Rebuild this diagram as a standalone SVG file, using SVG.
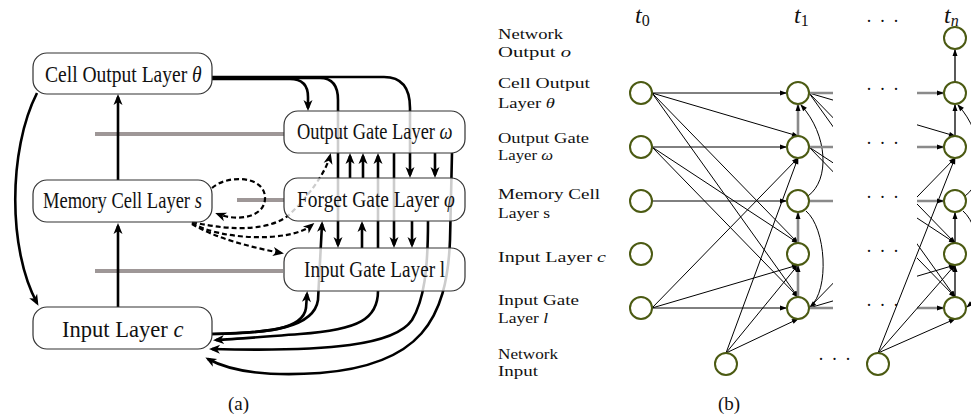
<svg xmlns="http://www.w3.org/2000/svg" xmlns:xlink="http://www.w3.org/1999/xlink" width="971" height="417" viewBox="0 0 971 417">
  <style>
    .box { fill: #ffffff; fill-opacity: 0.8; stroke: #333333; stroke-width: 1.2; }
    .ta { font-family: "Liberation Serif", "DejaVu Serif", serif; font-size: 24px; fill: #111111; }
    .tb { font-family: "Liberation Serif", "DejaVu Serif", serif; font-size: 14px; fill: #111111; }
    .cap { font-family: "Liberation Serif", "DejaVu Serif", serif; font-size: 19px; fill: #111111; }
    .tl { font-family: "Liberation Serif", "DejaVu Serif", serif; font-size: 24px; font-style: italic; fill: #111111; }
    .dots { font-family: "Liberation Serif", "DejaVu Serif", serif; font-size: 18px; letter-spacing: 7.5px; fill: #111111; }
    .ka { fill: none; stroke: #000000; stroke-width: 2.6; marker-end: url(#ah); }
    .da { fill: none; stroke: #000000; stroke-width: 2.2; stroke-dasharray: 5 3; marker-end: url(#ah); }
    .bar { fill: none; stroke: #9e9797; stroke-width: 4; }
    .ln { fill: none; stroke: #000000; stroke-width: 1; marker-end: url(#sa); }
    .gv { fill: none; stroke: #8a8a8a; stroke-width: 2.6; marker-end: url(#sa); }
    .gh { fill: none; stroke: #8a8a8a; stroke-width: 2.4; marker-end: url(#sa); }
    .bv { fill: none; stroke: #000000; stroke-width: 1.3; marker-end: url(#sa); }
    .nd { fill: #ffffff; stroke: #4b5a12; stroke-width: 2; }
    .it { font-style: italic; }
  </style>
  <defs>
    <marker id="ah" markerUnits="userSpaceOnUse" markerWidth="12" markerHeight="10" refX="8" refY="4.5" orient="auto" overflow="visible">
      <path d="M0,0 L11,4.5 L0,9 L3,4.5 z" fill="#000"/>
    </marker>
    <marker id="sa" markerUnits="userSpaceOnUse" markerWidth="8" markerHeight="6" refX="6" refY="2.5" orient="auto" overflow="visible">
      <path d="M0,0 L7,2.5 L0,5 z" fill="#000"/>
    </marker>
    <clipPath id="gap">
      <rect x="809" y="0" width="24" height="417"/>
      <rect x="917" y="0" width="54" height="417"/>
    </clipPath>
    <!-- connections from one time step to the next (source column x=641, target column x=798) -->
    <g id="step">
      <path class="ln" d="M652,93 L798,136"/>
      <path class="ln" d="M652,93 L798,243"/>
      <path class="ln" d="M652,93 L798,297"/>
      <path class="ln" d="M652,147 L798,243"/>
      <path class="ln" d="M652,147 L798,297"/>
      <path class="ln" d="M652,308 L798,265"/>
      <path class="ln" d="M652,308 L798,158"/>
    </g>
  </defs>

  <!-- ===================== (a) ===================== -->
  <g id="a-bars">
    <path class="bar" d="M95,134 H284"/>
    <path class="bar" d="M237,200 H284"/>
    <path class="bar" d="M95,271 H283"/>
  </g>

  <g id="a-connectors">
    <!-- input layer -> memory cell -> cell output -->
    <path class="ka" d="M118,307 V226"/>
    <path class="ka" d="M118,180 V97"/>
    <!-- cell output -> input layer (left) -->
    <path class="ka" d="M37,93 C8,150 8,250 37,303"/>
    <!-- cell output -> gates (top) -->
    <path class="ka" d="M212,79 H290 Q308,79 308,97 V108"/>
    <path class="ka" d="M212,78 H320 Q338,78 338,100 V245"/>
    <path class="ka" d="M212,77 H384 Q410,77 410,108 V175"/>
    <!-- gate to gate -->
    <path class="ka" d="M350,178 V156"/>
    <path class="ka" d="M363,178 V156"/>
    <path class="ka" d="M378,248 V156"/>
    <path class="ka" d="M394,153 V245"/>
    <path class="ka" d="M435,153 V175"/>
    <path class="ka" d="M362,248 V224"/>
    <path class="ka" d="M412,221 V245"/>
    <!-- input layer -> gates (bottom) -->
    <path class="ka" d="M212,334 C265,333 303,330 306,308 L307,294"/>
    <path class="ka" d="M212,334 C270,333 314,328 318,300 L322,224"/>
    <!-- gates -> input layer (bottom) -->
    <path class="ka" d="M378,291 C378,318 360,330 300,334 C260,337 236,339 216,340"/>
    <path class="ka" d="M428,221 C428,270 424,300 412,320 C395,345 330,352 212,349"/>
    <path class="ka" d="M452,153 L450,240 C447,320 420,365 320,373 C262,377 228,370 208,359"/>
    <!-- memory cell self loop and peepholes (dashed) -->
    <path class="da" d="M212,188 C228,174 264,176 265,197 C266,217 238,222 218,214"/>
    <path class="da" d="M192,223 C220,240 290,243 312,225"/>
    <path class="da" d="M192,224 C215,238 250,247 281,253"/>
    <path class="da" d="M192,222 C235,232 272,230 290,214 C308,197 326,172 330,156"/>
  </g>

  <g id="cell-output">
    <rect class="box" x="33" y="53" width="179" height="41" rx="14"/>
    <text class="ta" transform="translate(45,82) scale(0.815,1)">Cell Output Layer <tspan class="it">θ</tspan></text>
  </g>
  <g id="memory-cell">
    <rect class="box" x="33" y="180" width="179" height="42" rx="14"/>
    <text class="ta" transform="translate(43,208) scale(0.772,1)">Memory Cell Layer <tspan class="it">s</tspan></text>
  </g>
  <g id="input-layer">
    <rect class="box" x="33" y="307" width="179" height="42" rx="14"/>
    <text class="ta" transform="translate(62,337) scale(0.94,1)">Input Layer <tspan class="it">c</tspan></text>
  </g>
  <g id="output-gate">
    <rect class="box" x="284" y="111" width="181" height="42" rx="14"/>
    <text class="ta" transform="translate(297,139) scale(0.767,1)">Output Gate Layer <tspan class="it">ω</tspan></text>
  </g>
  <g id="forget-gate">
    <rect class="box" x="284" y="178" width="181" height="43" rx="14"/>
    <text class="ta" transform="translate(297,207) scale(0.81,1)">Forget Gate Layer <tspan class="it">φ</tspan></text>
  </g>
  <g id="input-gate">
    <rect class="box" x="284" y="248" width="181" height="43" rx="14"/>
    <text class="ta" transform="translate(304,277) scale(0.8,1)">Input Gate Layer l</text>
  </g>
  <text class="cap" x="228" y="410">(a)</text>

  <!-- ===================== (b) ===================== -->
  <g id="b-labels">
    <text class="tb" x="498" y="39" textLength="65" lengthAdjust="spacingAndGlyphs">Network</text>
    <text class="tb" x="498" y="57" textLength="73" lengthAdjust="spacingAndGlyphs">Output <tspan class="it">o</tspan></text>
    <text class="tb" x="498" y="88" textLength="92" lengthAdjust="spacingAndGlyphs">Cell Output</text>
    <text class="tb" x="498" y="108" textLength="57" lengthAdjust="spacingAndGlyphs">Layer <tspan class="it">θ</tspan></text>
    <text class="tb" x="498" y="143" textLength="91" lengthAdjust="spacingAndGlyphs">Output Gate</text>
    <text class="tb" x="498" y="160" textLength="55" lengthAdjust="spacingAndGlyphs">Layer <tspan class="it">ω</tspan></text>
    <text class="tb" x="498" y="199" textLength="102" lengthAdjust="spacingAndGlyphs">Memory Cell</text>
    <text class="tb" x="498" y="218" textLength="52" lengthAdjust="spacingAndGlyphs">Layer s</text>
    <text class="tb" x="498" y="262" textLength="108" lengthAdjust="spacingAndGlyphs">Input Layer <tspan class="it">c</tspan></text>
    <text class="tb" x="498" y="305" textLength="81" lengthAdjust="spacingAndGlyphs">Input Gate</text>
    <text class="tb" x="498" y="323" textLength="50" lengthAdjust="spacingAndGlyphs">Layer <tspan class="it">l</tspan></text>
    <text class="tb" x="498" y="359" textLength="60" lengthAdjust="spacingAndGlyphs">Network</text>
    <text class="tb" x="498" y="376" textLength="40" lengthAdjust="spacingAndGlyphs">Input</text>
    <text class="tl" x="635" y="23">t<tspan font-style="normal" font-size="16" dy="3">0</tspan></text>
    <text class="tl" x="794" y="23">t<tspan font-style="normal" font-size="16" dy="3">1</tspan></text>
    <text class="tl" x="944" y="23">t<tspan font-size="16" dy="3">n</tspan></text>
    <text class="dots" x="866" y="27">···</text>
    <text class="dots" x="866" y="95">···</text>
    <text class="dots" x="866" y="149">···</text>
    <text class="dots" x="866" y="203">···</text>
    <text class="dots" x="866" y="257">···</text>
    <text class="dots" x="866" y="311">···</text>
    <text class="dots" x="818" y="365">···</text>
    <text class="cap" x="718" y="410">(b)</text>
  </g>

  <g id="b-connectors">
    <!-- t0 -> t1 -->
    <path class="ln" d="M652,93 H786"/>
    <path class="ln" d="M652,147 H786"/>
    <path class="ln" d="M652,201 H786"/>
    <path class="ln" d="M652,308 H786"/>
    <use xlink:href="#step"/>
    <!-- network input at t1 -->
    <path class="ln" d="M726,353 L798,158"/>
    <path class="ln" d="M726,353 L798,265"/>
    <path class="ln" d="M726,353 L798,319"/>
    <!-- within t1 -->
    <path class="gv" d="M798,136 V105"/>
    <path class="gv" d="M798,243 V213"/>
    <path class="gv" d="M798,297 V266"/>
    <path class="ln" d="M808,196 C830,180 828,135 801,105"/>
    <path class="ln" d="M806,211 C826,228 830,290 810,307"/>
    <!-- steps leaving t1 and entering tn, cut where the dots stand in -->
    <g clip-path="url(#gap)">
      <use xlink:href="#step" x="157"/>
      <path class="gh" d="M809,93 H943"/>
      <path class="gh" d="M809,147 H943"/>
      <path class="gh" d="M809,201 H943"/>
      <path class="gh" d="M809,308 H943"/>
    </g>
    <!-- network input at tn -->
    <path class="ln" d="M878,353 L955,158"/>
    <path class="ln" d="M878,353 L955,265"/>
    <path class="ln" d="M878,353 L955,319"/>
    <!-- within tn -->
    <path class="bv" d="M955,82 V50"/>
    <path class="bv" d="M955,136 V105"/>
    <path class="bv" d="M955,243 V213"/>
    <path class="bv" d="M955,297 V266"/>
    <path class="ln" d="M965,196 C987,180 985,135 958,105"/>
    <path class="ln" d="M963,211 C983,228 987,290 967,307"/>
  </g>

  <g id="t0-nodes">
    <circle id="t0-theta" class="nd" cx="641" cy="93" r="11"/>
    <circle id="t0-omega" class="nd" cx="641" cy="147" r="11"/>
    <circle id="t0-s" class="nd" cx="641" cy="201" r="11"/>
    <circle id="t0-c" class="nd" cx="641" cy="254" r="11"/>
    <circle id="t0-l" class="nd" cx="641" cy="308" r="11"/>
  </g>
  <g id="t1-nodes">
    <circle id="t1-theta" class="nd" cx="798" cy="93" r="11"/>
    <circle id="t1-omega" class="nd" cx="798" cy="147" r="11"/>
    <circle id="t1-s" class="nd" cx="798" cy="201" r="11"/>
    <circle id="t1-c" class="nd" cx="798" cy="254" r="11"/>
    <circle id="t1-l" class="nd" cx="798" cy="308" r="11"/>
    <circle id="t1-input" class="nd" cx="726" cy="364" r="11"/>
  </g>
  <g id="tn-nodes">
    <circle id="tn-o" class="nd" cx="955" cy="38" r="11"/>
    <circle id="tn-theta" class="nd" cx="955" cy="93" r="11"/>
    <circle id="tn-omega" class="nd" cx="955" cy="147" r="11"/>
    <circle id="tn-s" class="nd" cx="955" cy="201" r="11"/>
    <circle id="tn-c" class="nd" cx="955" cy="254" r="11"/>
    <circle id="tn-l" class="nd" cx="955" cy="308" r="11"/>
    <circle id="tn-input" class="nd" cx="878" cy="364" r="11"/>
  </g>
</svg>
